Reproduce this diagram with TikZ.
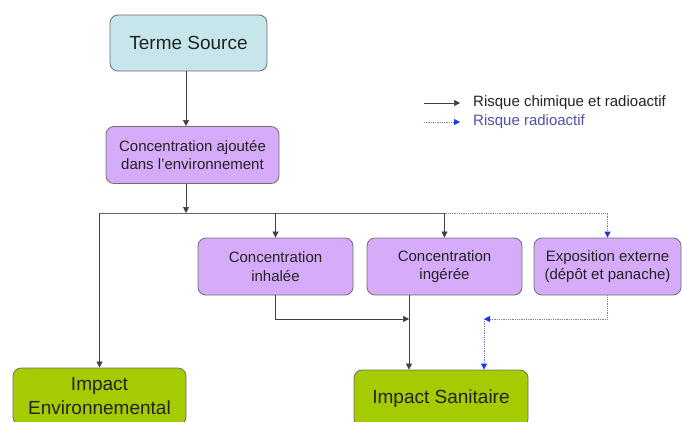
\documentclass[tikz,border=0pt]{standalone}
\usepackage{fontspec}
\setmainfont{Liberation Sans}
\usepackage{tikz}
\usetikzlibrary{arrows.meta, positioning, calc}
\definecolor{mytext}{RGB}{35,35,35}
\definecolor{mygrey}{RGB}{110,110,110}
\definecolor{srccyan}{RGB}{198,230,235}
\definecolor{concviolet}{RGB}{214,172,250}
\definecolor{impgreen}{RGB}{164,204,0}
\definecolor{radblue}{RGB}{120,120,195}
\definecolor{tipblue}{RGB}{25,55,230}
\definecolor{legblue}{RGB}{80,80,170}
\tikzset{
  block/.style={rectangle, draw=mygrey, rounded corners=8pt, line width=0.8pt,
    align=center, text=mytext, inner sep=0pt},
  small/.style={block, fill=concviolet, minimum height=57pt,
    font=\fontsize{15}{18.7}\selectfont},
  big/.style={block, fill=impgreen, minimum height=57pt,
    font=\fontsize{19}{24}\selectfont},
  arrow/.style={-{Triangle[length=6pt,width=6pt]}, line width=0.6pt, color=black!75},
  line/.style={line width=0.6pt, color=black!60},
  radio/.style={densely dotted, line width=0.8pt, color=radblue},
  radarrow/.style={radio, -{Triangle[length=6pt,width=6pt,color=tipblue]}}
}
\begin{document}
\begin{tikzpicture}[x=1pt, y=-1pt]
  \useasboundingbox (0,0) rectangle (682,421);
  \clip (0,0) rectangle (682,421);
  % boxes
  \node[block, fill=srccyan, minimum width=157pt, minimum height=56pt,
    font=\fontsize{19}{24}\selectfont] (src) at (188.5,43) {Terme Source};
  \node[small, minimum width=173pt] (conc) at (192.5,155) {Concentration ajoutée\\dans l’environnement};
  \node[small, minimum width=155pt] (inh) at (275.5,266.5) {Concentration\\inhalée};
  \node[small, minimum width=155pt] (ing) at (444.5,266.5) {Concentration\\ingérée};
  \node[small, minimum width=147pt] (expo) at (607.5,266.5) {Exposition externe\\(dépôt et panache)};
  \node[big, minimum width=173pt] (env) at (99.5,396.5) {Impact\\Environnemental};
  \node[big, minimum width=174pt] (san) at (441,398.5) {Impact Sanitaire};
  % junctions
  \coordinate (j) at (186,213);
  \coordinate (m) at (409,319);
  \coordinate (r) at (484,319);
  % connectors
  \draw[arrow] (src.south -| j) -- (conc.north -| j);
  \draw[arrow] (conc.south -| j) -- (j);
  \draw[line] (env.north |- j) -- (ing.north |- j);
  \draw[arrow] (env.north |- j) -- (env.north);
  \draw[arrow] (inh.north |- j) -- (inh.north);
  \draw[arrow] (ing.north |- j) -- (ing.north);
  \draw[radarrow] (ing.north |- j) -| (expo.north);
  \draw[arrow] (inh.south) |- (m);
  \draw[arrow] (ing.south -| m) -- (san.north -| m);
  \draw[radarrow] (expo.south) |- (r);
  \draw[radarrow] (r) -- (san.north -| r);
  % legend
  \coordinate (la) at (424,103);
  \coordinate (lb) at (460,103);
  \coordinate (lc) at (424,122);
  \coordinate (ld) at (460,122);
  \draw[arrow] (la) -- (lb);
  \draw[radarrow] (lc) -- (ld);
  \node[anchor=west, inner sep=0pt, text=mytext, font=\fontsize{15}{18}\selectfont]
    (leg1) at (473,103) {Risque chimique et radioactif};
  \node[anchor=west, inner sep=0pt, text=legblue, font=\fontsize{15}{18}\selectfont]
    (leg2) at (473,122) {Risque radioactif};
\end{tikzpicture}
\end{document}
